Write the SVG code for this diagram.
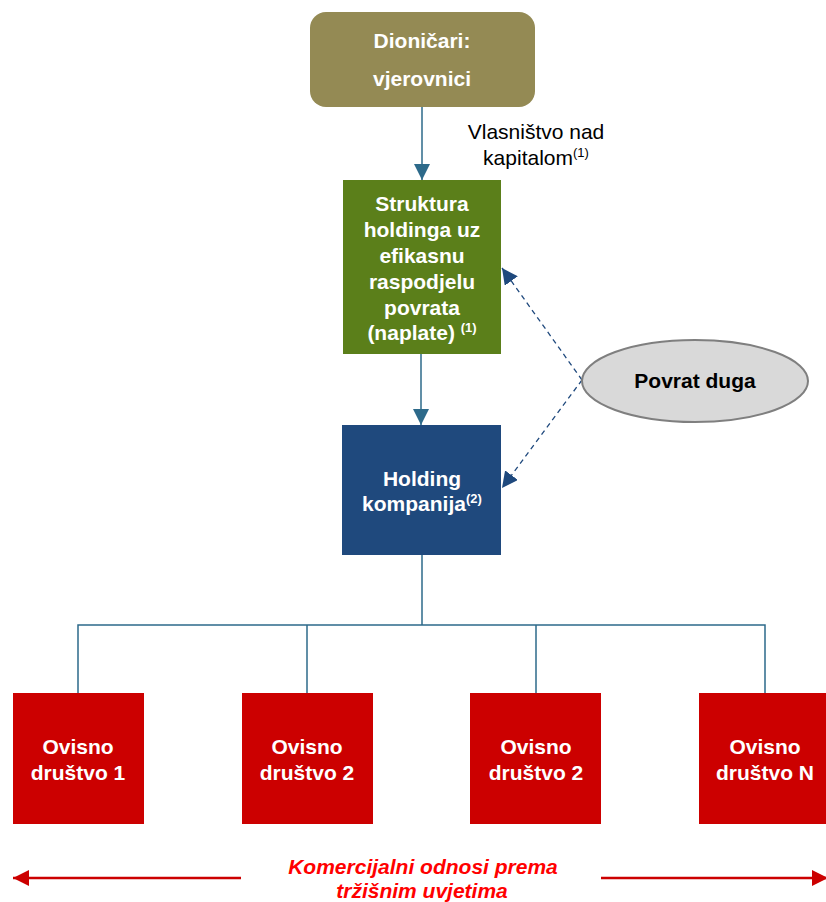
<svg xmlns="http://www.w3.org/2000/svg" width="826" height="902" viewBox="0 0 826 902">
  <style>
    .lbl { font-family: "Liberation Sans", Arial, sans-serif; font-size: 21px; text-anchor: middle; }
    .wb { fill: #ffffff; font-weight: bold; }
    .kb { fill: #000000; font-weight: bold; }
    .reg { fill: #000000; }
    .sup { font-size: 13px; }
    .conn { stroke: #2D6A8A; stroke-width: 1.5; fill: none; }
    .dash { stroke: #1F497D; stroke-width: 1.3; stroke-dasharray: 5 4; fill: none; }
    .red { stroke: #CC0000; stroke-width: 2.5; fill: none; }
    .note { fill: #FF0000; font-weight: bold; font-style: italic; }
  </style>
  <defs>
    <marker id="arrSolid" markerUnits="userSpaceOnUse" markerWidth="16" markerHeight="16" viewBox="0 0 16 16" refX="16" refY="8" orient="auto">
      <path d="M0,0 L16,8 L0,16 Z" fill="#2D6A8A"/>
    </marker>
    <marker id="arrDash" markerUnits="userSpaceOnUse" markerWidth="16" markerHeight="16" viewBox="0 0 16 16" refX="16" refY="8" orient="auto">
      <path d="M0,0 L16,8 L0,16 Z" fill="#1F497D"/>
    </marker>
    <marker id="arrRed" markerUnits="userSpaceOnUse" markerWidth="16" markerHeight="16" viewBox="0 0 16 16" refX="16" refY="8" orient="auto">
      <path d="M0,0 L16,8 L0,16 Z" fill="#CC0000"/>
    </marker>
  </defs>

  <rect width="826" height="902" fill="#ffffff"/>

  <!-- connectors -->
  <g id="connectors">
    <line class="conn" x1="422" y1="107" x2="422" y2="180" marker-end="url(#arrSolid)"/>
    <line class="conn" x1="421" y1="354" x2="421" y2="425" marker-end="url(#arrSolid)"/>
    <line class="dash" x1="582" y1="380" x2="502" y2="268" marker-end="url(#arrDash)"/>
    <line class="dash" x1="582" y1="380" x2="502" y2="488" marker-end="url(#arrDash)"/>
    <polyline class="conn" points="422,555 422,625"/>
    <polyline class="conn" points="78,693 78,625 765,625 765,693"/>
    <line class="conn" x1="307" y1="625" x2="307" y2="693"/>
    <line class="conn" x1="536" y1="625" x2="536" y2="693"/>
    <line class="red" x1="241" y1="878" x2="13" y2="878" marker-end="url(#arrRed)"/>
    <line class="red" x1="601" y1="878" x2="828" y2="878" marker-end="url(#arrRed)"/>
  </g>

  <!-- shareholders / creditors -->
  <g id="dionicari">
    <rect x="310" y="12" width="225" height="95" rx="16" ry="16" fill="#948A54"/>
    <text class="lbl wb" x="422" y="48">Dioničari:</text>
    <text class="lbl wb" x="422" y="86">vjerovnici</text>
  </g>

  <g id="vlasnistvo-label">
    <text class="lbl reg" x="536" y="139">Vlasništvo nad</text>
    <text class="lbl reg" x="536" y="165">kapitalom<tspan class="sup" dy="-8">(1)</tspan></text>
  </g>

  <!-- holding structure -->
  <g id="struktura">
    <rect x="343" y="180" width="158" height="174" fill="#5B7F1A"/>
    <text class="lbl wb" x="422" y="211">Struktura</text>
    <text class="lbl wb" x="422" y="237">holdinga uz</text>
    <text class="lbl wb" x="422" y="263">efikasnu</text>
    <text class="lbl wb" x="422" y="289">raspodjelu</text>
    <text class="lbl wb" x="422" y="315">povrata</text>
    <text class="lbl wb" x="422" y="340">(naplate) <tspan class="sup" dy="-8">(1)</tspan></text>
  </g>

  <!-- debt repayment -->
  <g id="povrat-duga">
    <ellipse cx="695" cy="381" rx="113" ry="41" fill="#D9D9D9" stroke="#7F7F7F" stroke-width="2"/>
    <text class="lbl kb" x="695" y="388">Povrat duga</text>
  </g>

  <!-- holding company -->
  <g id="holding">
    <rect x="342" y="425" width="159" height="130" fill="#1F497D"/>
    <text class="lbl wb" x="422" y="486">Holding</text>
    <text class="lbl wb" x="422" y="511">kompanija<tspan class="sup" dy="-8">(2)</tspan></text>
  </g>

  <!-- subsidiaries -->
  <g id="ovisno-1">
    <rect x="13" y="693" width="131" height="131" fill="#CC0000"/>
    <text class="lbl wb" x="78" y="754">Ovisno</text>
    <text class="lbl wb" x="78" y="780">društvo 1</text>
  </g>
  <g id="ovisno-2a">
    <rect x="242" y="693" width="131" height="131" fill="#CC0000"/>
    <text class="lbl wb" x="307" y="754">Ovisno</text>
    <text class="lbl wb" x="307" y="780">društvo 2</text>
  </g>
  <g id="ovisno-2b">
    <rect x="470" y="693" width="131" height="131" fill="#CC0000"/>
    <text class="lbl wb" x="536" y="754">Ovisno</text>
    <text class="lbl wb" x="536" y="780">društvo 2</text>
  </g>
  <g id="ovisno-n">
    <rect x="699" y="693" width="131" height="131" fill="#CC0000"/>
    <text class="lbl wb" x="765" y="754">Ovisno</text>
    <text class="lbl wb" x="765" y="780">društvo N</text>
  </g>

  <g id="komercijalni-odnosi">
    <text class="lbl note" x="423" y="874">Komercijalni odnosi prema</text>
    <text class="lbl note" x="422" y="898">tržišnim uvjetima</text>
  </g>
</svg>
